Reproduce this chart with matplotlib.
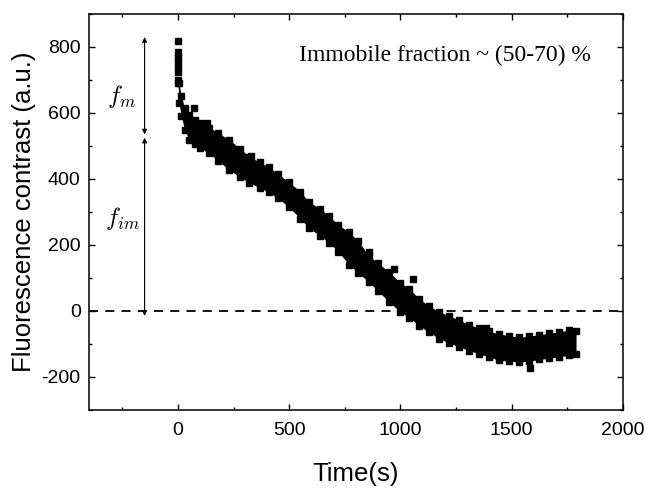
import matplotlib
matplotlib.use("Agg")
import matplotlib.pyplot as plt
from matplotlib.ticker import MultipleLocator
import numpy as np

# band of the scattered points (edges of the point cloud)
t_band = [0, 5, 15, 30, 50, 75, 100, 140, 180, 230, 280, 320, 370, 410, 450,
          500, 550, 590, 640, 680, 720, 770, 810, 860, 900, 950, 1000, 1040,
          1085, 1130, 1175, 1220, 1265, 1310, 1355, 1400, 1445, 1490, 1535,
          1580, 1625, 1670, 1715, 1760, 1790]
upper = [700, 690, 650, 615, 594, 580, 570, 556, 540, 519, 492, 468, 450, 435,
         415, 390, 362, 330, 310, 287, 262, 238, 212, 166, 145, 118, 85, 68,
         36, 15, -3, -15, -28, -42, -52, -62, -70, -75, -80, -76, -72, -68,
         -63, -58, -60]
lower = [690, 630, 590, 549, 519, 505, 494, 478, 455, 428, 405, 389, 373, 359,
         342, 314, 280, 250, 228, 206, 180, 140, 115, 87, 60, 27, -3, -20,
         -45, -65, -84, -97, -109, -120, -130, -140, -150, -152, -155, -152,
         -147, -143, -139, -134, -130]

# isolated points (start column and outliers)
t_pts = [0, 0, 0, 0, 0, 0, 72, 130, 328, 859, 971, 1057, 1385, 1585]
v_pts = [818, 785, 770, 755, 740, 725, 615, 570, 470, 178, 127, 97, -51, -172]

plt.rcParams["font.family"] = ["Liberation Sans", "DejaVu Sans"]
plt.rcParams["mathtext.fontset"] = "cm"
plt.rcParams["axes.unicode_minus"] = False

fig = plt.figure(figsize=(6.45, 4.88), dpi=100)
ax = fig.add_axes([0.138, 0.16, 0.8275, 0.8113])

ax.fill_between(t_band, lower, upper, color="black", lw=0)
ax.plot(t_band, upper, "s", color="black", ms=3.8)
ax.plot(t_band, lower, "s", color="black", ms=3.8)
ax.plot(t_pts, v_pts, "s", color="black", ms=3.8)

ax.axhline(0, color="black", ls=(0, (5, 4)), lw=1.3)

# f_m / f_im arrows
ax.annotate("", xy=(-150, 830), xytext=(-150, 535),
            arrowprops=dict(arrowstyle="<|-|>", color="black", lw=0.8,
                            mutation_scale=7, shrinkA=0, shrinkB=0))
ax.annotate("", xy=(-150, 525), xytext=(-150, -15),
            arrowprops=dict(arrowstyle="<|-|>", color="black", lw=0.8,
                            mutation_scale=7, shrinkA=0, shrinkB=0))
ax.text(-255, 650, r"$f_m$", fontsize=18, ha="center", va="center")
ax.text(-250, 280, r"$f_{im}$", fontsize=18, ha="center", va="center")

ax.text(545, 775, "Immobile fraction ~ (50-70) %", family="Liberation Serif",
        fontsize=17, ha="left", va="center")

ax.set_xlim(-400, 2000)
ax.set_ylim(-300, 900)
ax.xaxis.set_major_locator(MultipleLocator(500))
ax.xaxis.set_minor_locator(MultipleLocator(250))
ax.yaxis.set_major_locator(MultipleLocator(200))
ax.yaxis.set_minor_locator(MultipleLocator(100))
ax.tick_params(which="both", direction="in", top=True, right=True, width=1)
ax.tick_params(which="major", length=4.5, labelsize=14)
ax.tick_params(axis="x", which="major", pad=9)
ax.tick_params(axis="y", which="major", pad=6)
ax.tick_params(which="minor", length=2.5)
for s in ax.spines.values():
    s.set_linewidth(1.1)

ax.set_xlabel("Time(s)", fontsize=18.5, labelpad=16)
ax.set_ylabel("Fluorescence contrast (a.u.)", fontsize=18.5, labelpad=4)

fig.savefig("out.png", dpi=100)
